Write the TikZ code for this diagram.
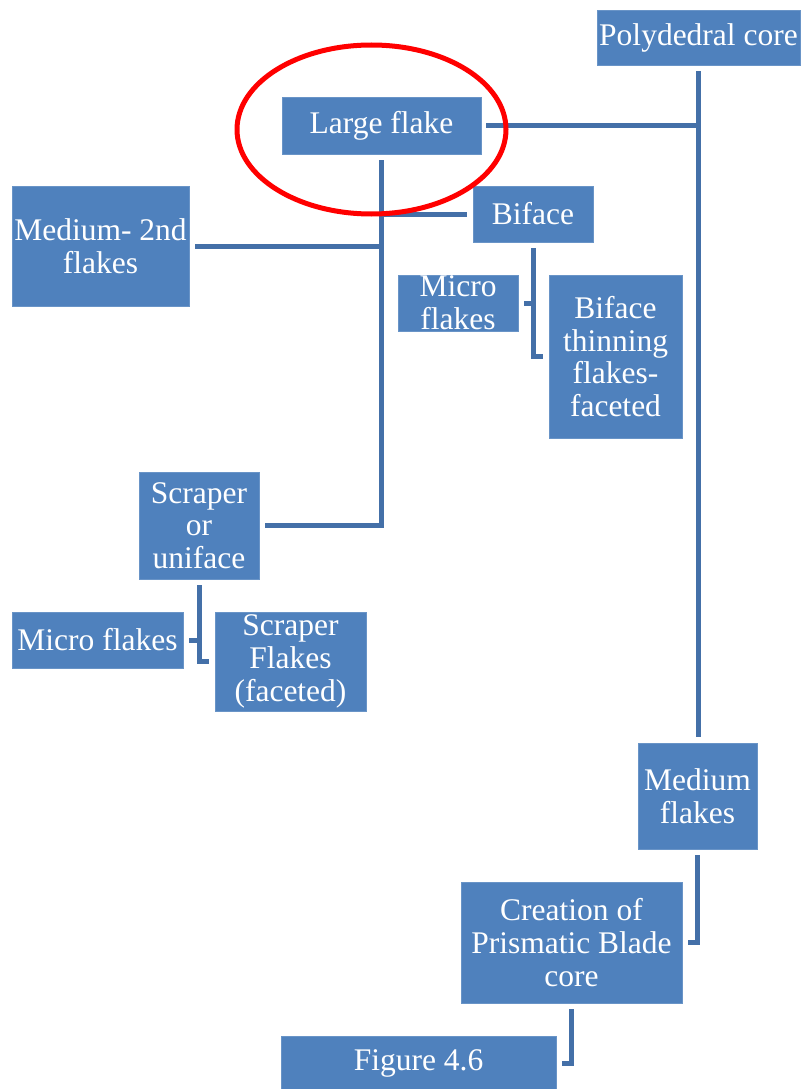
\documentclass[tikz,border=0pt]{standalone}
\usepackage{fontspec}
\setmainfont{Liberation Serif}
\usetikzlibrary{shapes.geometric}
\definecolor{boxblue}{HTML}{4F81BD}
\definecolor{lineblue}{HTML}{4470A8}
\begin{document}
\begin{tikzpicture}[x=1pt,y=-1pt,
  box/.style={rectangle,fill=boxblue,draw=boxblue!85!white,line width=0.6pt,inner sep=0pt,
    text=white,align=center,font=\fontsize{31.5}{32.7}\selectfont},
  conn/.style={draw=lineblue,line width=5pt,line cap=butt,line join=miter}]
\useasboundingbox (0,0) rectangle (801,1089);
\node[box,minimum width=203,minimum height=55] (pc) at (698.5,37.5) {Polydedral core};
\node[box,minimum width=199,minimum height=57] (lf) at (381.5,125.5) {Large flake};
\node[box,minimum width=177,minimum height=120] (med2) at (100.5,246) {Medium- 2nd\\flakes};
\node[box,minimum width=120,minimum height=56] (bif) at (533,214) {Biface};
\node[box,minimum width=120,minimum height=56] (mic1) at (458,303) {Micro\\flakes};
\node[box,minimum width=133,minimum height=163] (bt) at (615.5,356.5) {Biface\\thinning\\flakes-\\faceted};
\node[box,minimum width=120,minimum height=107] (scr) at (199,525.5) {Scraper\\or\\uniface};
\node[box,minimum width=171,minimum height=56] (mic2) at (97.5,640) {Micro flakes};
\node[box,minimum width=151,minimum height=99] (sf) at (290.5,661.5) {Scraper\\Flakes\\(faceted)};
\node[box,minimum width=119,minimum height=106] (mf) at (697.5,796) {Medium\\flakes};
\node[box,minimum width=221,minimum height=121] (cpb) at (571.5,942.5) {Creation of\\Prismatic Blade\\core};
\node[box,minimum width=275,minimum height=54] (fig) at (418.5,1063) {Figure 4.6};
% connectors
\draw[conn] ([yshift=-6]pc.south) -- ([yshift=6]pc.south |- mf.north);
\draw[conn] ([xshift=5]lf.east) -- (lf.east -| pc.south);
\draw[conn] ([yshift=-6]lf.south) |- ([xshift=6]scr.east);
\draw[conn] ([xshift=6]med2.east) -- (med2.east -| lf.south);
\draw[conn] (bif.west -| lf.south) -- ([xshift=-6]bif.west);
\draw[conn] ([xshift=6]mic1.east) -| ([yshift=-6]bif.south);
\draw[conn] ([yshift=-6]bif.south) |- ([xshift=-6]bt.west);
\draw[conn] ([xshift=6]mic2.east) -| ([yshift=-6]scr.south);
\draw[conn] ([yshift=-6]scr.south) |- ([xshift=-6]sf.west);
\draw[conn] ([yshift=-6]mf.south) |- ([xshift=6]cpb.east);
\draw[conn] ([yshift=-6]cpb.south) |- ([xshift=6]fig.east);
% highlight
\node[ellipse,draw=red,line width=5pt,minimum width=269,minimum height=169,inner sep=0pt] (hl) at (371.5,129.5) {};
\end{tikzpicture}
\end{document}
